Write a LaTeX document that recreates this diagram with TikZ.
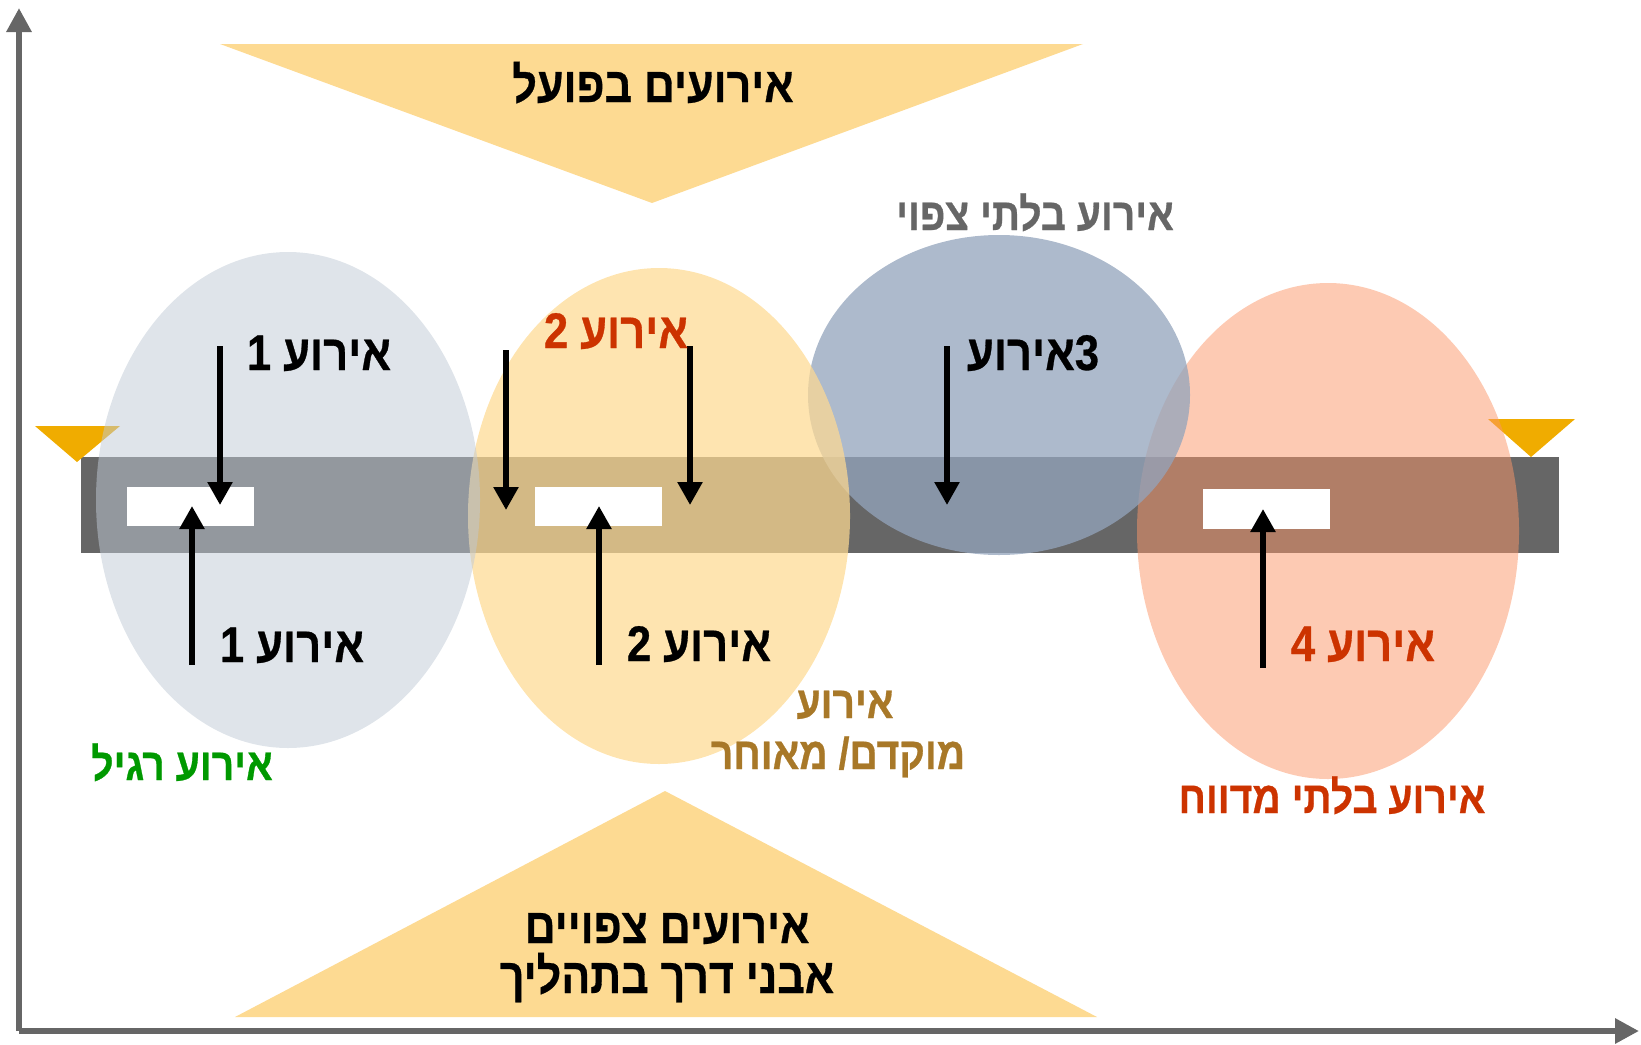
\documentclass[tikz,border=0pt]{standalone}
\usepackage{fontspec}
\usetikzlibrary{arrows.meta}
\TeXXeTstate=1
\newfontfamily\heb[Script=Hebrew, FakeStretch=0.87, BoldFeatures={FakeBold=0.6}]{Liberation Sans}
\definecolor{axisgray}{HTML}{666666}
\definecolor{barcol}{HTML}{666666}
\definecolor{tricol}{HTML}{FDDA92}
\definecolor{markcol}{HTML}{F0AC00}
\definecolor{ellA}{RGB}{192,202,214}
\definecolor{ellB}{RGB}{254,218,146}
\definecolor{ellC}{RGB}{147,164,188}
\definecolor{ellD}{RGB}{252,150,104}
\definecolor{redtxt}{HTML}{CC3300}
\definecolor{greentxt}{HTML}{009900}
\definecolor{browntxt}{RGB}{168,120,40}
\definecolor{graytxt}{HTML}{666666}
\begin{document}
\begin{tikzpicture}[x=0.5pt,y=-0.5pt,
  axis/.style={draw=axisgray, line width=3pt, -{Triangle[width=12pt,length=12pt]}},
  evarrow/.style={draw=black, line width=2.75pt, -{Triangle[width=12pt,length=11.5pt]}},
  bigtxt/.style={font=\heb\bfseries\fontsize{25}{29}\selectfont, inner sep=0pt, anchor=base},
  midtxt/.style={font=\heb\bfseries\fontsize{22.5}{26}\selectfont, inner sep=0pt, anchor=base},
  headtxt/.style={font=\heb\bfseries\fontsize{24.7}{28}\selectfont, inner sep=0pt, anchor=base},
  whitebox/.style={fill=white, draw=none, inner sep=0pt},
]
\useasboundingbox (0,0) rectangle (1641,1044);
% axes
\coordinate (origin) at (19,1031);
\coordinate (ytop) at (19,8);
\coordinate (xend) at (1639,1031);
\draw[axis] (origin) -- (ytop);
\draw[axis] (origin) -- (xend);
% triangles
\fill[tricol] (220,44) -- (1083,44) -- (652,203) -- cycle;
\fill[tricol] (235,1017) -- (1097,1017) -- (665,791) -- cycle;
% bar
\fill[barcol] (81,457) rectangle (1559,553);
% markers
\fill[markcol] (35,426) -- (120,426) -- (77,462) -- cycle;
\fill[markcol] (1488,419) -- (1575,419) -- (1531,457) -- cycle;
% ellipses
\fill[ellD, opacity=0.5] (1328,531) ellipse [x radius=95.5pt, y radius=124pt];
\fill[ellC, opacity=0.76] (999,395) ellipse [x radius=95.5pt, y radius=80pt];
\fill[ellB, opacity=0.72] (659,516) ellipse [x radius=95.5pt, y radius=124pt];
\fill[ellA, opacity=0.5] (288,500) ellipse [x radius=96pt, y radius=124pt];
% white boxes
\node[whitebox, minimum width=63.5pt, minimum height=19.5pt] (box1) at (190.5,506) {};
\node[whitebox, minimum width=63.5pt, minimum height=19.5pt] (box2) at (598.5,506) {};
\node[whitebox, minimum width=63.5pt, minimum height=20pt] (box4) at (1266.5,509) {};
% arrows
\coordinate (d1s) at (220,346); \coordinate (d1e) at (220,505);
\coordinate (u1s) at (192,665); \coordinate (u1e) at (192,506);
\coordinate (d2as) at (506,350); \coordinate (d2ae) at (506,510);
\coordinate (d2bs) at (690,346); \coordinate (d2be) at (690,505);
\coordinate (u2s) at (599,665); \coordinate (u2e) at (599,506);
\coordinate (d3s) at (947,346); \coordinate (d3e) at (947,505);
\coordinate (u4s) at (1263,668); \coordinate (u4e) at (1263,509);
\draw[evarrow] (d1s) -- (d1e);
\draw[evarrow] (u1s) -- (u1e);
\draw[evarrow] (d2as) -- (d2ae);
\draw[evarrow] (d2bs) -- (d2be);
\draw[evarrow] (u2s) -- (u2e);
\draw[evarrow] (d3s) -- (d3e);
\draw[evarrow] (u4s) -- (u4e);
% texts
\node[headtxt] (title) at (653,102) {\beginR אירועים בפועל\endR};
\node[bigtxt] (e1top) at (319,370) {\beginR אירוע 1\endR};
\node[bigtxt, text=redtxt] (e2top) at (616,348) {\beginR אירוע 2\endR};
\node[bigtxt] (e3) at (1033,370) {\beginR\beginL 3\endL אירוע\endR};
\node[midtxt, text=graytxt] (unexp) at (1035,230) {\beginR אירוע בלתי צפוי\endR};
\node[bigtxt] (e1bot) at (292,662) {\beginR אירוע 1\endR};
\node[bigtxt] (e2bot) at (699,661) {\beginR אירוע 2\endR};
\node[bigtxt, text=redtxt] (e4) at (1363,661) {\beginR אירוע 4\endR};
\node[midtxt, text=greentxt] (regular) at (182,780) {\beginR אירוע רגיל\endR};
\node[midtxt, text=browntxt] (early1) at (845,718) {\beginR אירוע\endR};
\node[midtxt, text=browntxt] (early2) at (838,769) {\beginR מוקדם/ מאוחר\endR};
\node[midtxt, text=redtxt] (unrep) at (1332,813) {\beginR אירוע בלתי מדווח\endR};
\node[headtxt] (plan1) at (667,943) {\beginR אירועים צפויים\endR};
\node[headtxt] (plan2) at (667,993) {\beginR אבני דרך בתהליך\endR};
\end{tikzpicture}
\end{document}
